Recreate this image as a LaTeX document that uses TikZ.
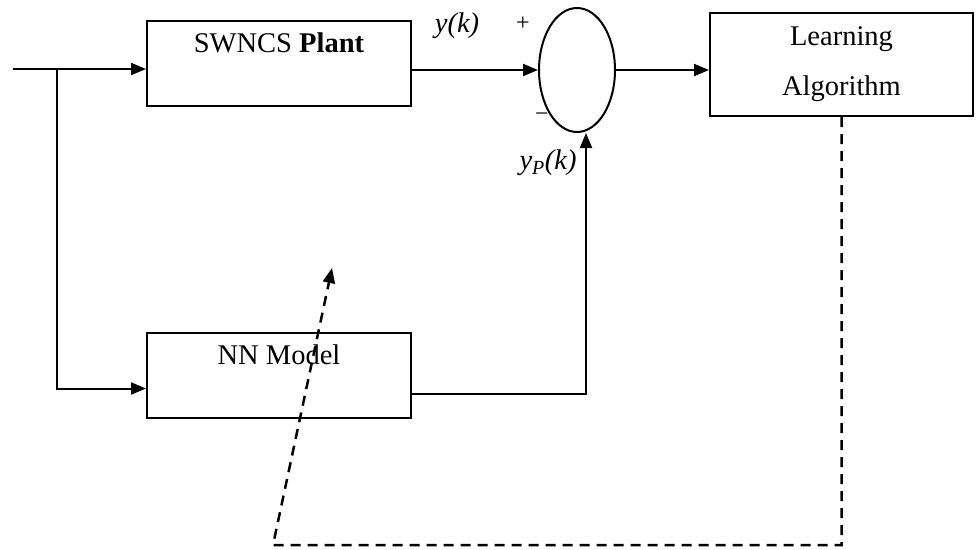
\documentclass[tikz,border=0pt]{standalone}
\usepackage{fontspec}
\setmainfont{Liberation Serif}
\usetikzlibrary{arrows.meta,positioning,shapes.geometric}

\begin{document}
\begin{tikzpicture}[
  x=1pt,y=-1pt,
  block/.style={draw,line width=2pt,minimum width=264pt,minimum height=85pt,
    align=center,font=\fontsize{28.5}{32}\selectfont},
  sumnode/.style={draw,ellipse,line width=2pt,minimum width=76pt,
    minimum height=124pt,inner sep=0pt},
  arr/.style={-{Triangle[length=15pt,width=12pt]},line width=2pt},
  fb/.style={arr,line width=2.5pt,dash pattern=on 10pt off 7pt},
  sig/.style={font=\fontsize{28.5}{32}\selectfont\itshape},
  sign/.style={font=\fontsize{24}{28}\selectfont}
]
  \useasboundingbox (0,0) rectangle (979,549);

  % Blocks
  \node[block] (plant) at (279,63.5) {SWNCS \textbf{Plant}\\\strut};
  \node[block,below=225pt of plant] (nn) {NN Model\\\strut};
  \node[sumnode] (sum) at (577,70) {};
  \node[block,minimum width=263pt,minimum height=103pt] (learn) at (841.5,64.5)
    {Learning\\[18pt]Algorithm};

  % Input and branch
  \coordinate (in) at (13,69);
  \coordinate (split) at (57,69);
  \coordinate (nnin) at ([yshift=-13pt]nn.west);
  \draw[arr] (in) -- (in -| plant.west);
  \draw[arr] (split) |- (nnin);

  % Signals to the comparator
  \coordinate (nnout) at ([yshift=-18pt]nn.east);
  \coordinate (ypin) at ([xshift=9pt]sum.south);
  \draw[arr] (plant.east |- sum.west) -- (sum.west);
  \draw[arr] (nnout) -| (ypin);
  \draw[arr] (sum.east) -- (sum.east -| learn.west);

  % Learning feedback
  \coordinate (fbl) at (273,545);
  \coordinate (fbtip) at (332,268);
  \draw[fb] (learn.south) |- (fbl) -- (fbtip);

  % Labels
  \node[sig] (yk) at (457,26) {y(k)};
  \node[sign] (plus) at (523,24) {+};
  \node[sign] (minus) at (542,117) {\char"2212};
  \node[sig] (ypk) at (548,163) {y\textsubscript{P}(k)};
\end{tikzpicture}
\end{document}
